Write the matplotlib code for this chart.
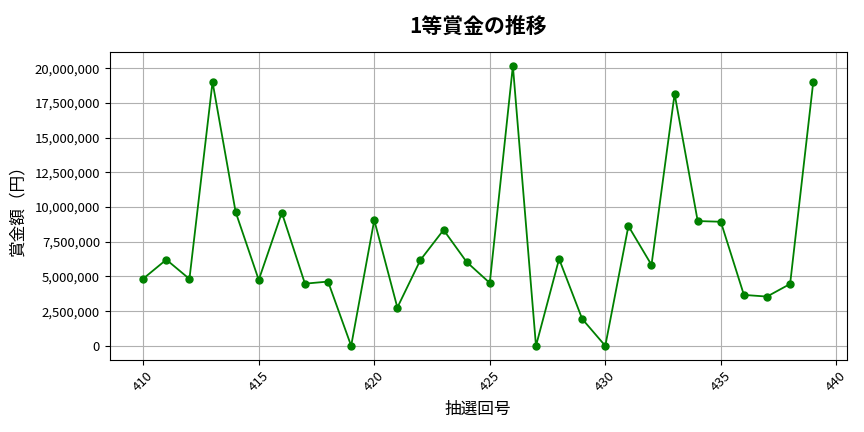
import matplotlib
matplotlib.use("Agg")
import matplotlib.pyplot as plt
from matplotlib.ticker import FuncFormatter

plt.rcParams['font.family'] = ['Noto Sans CJK JP', 'DejaVu Sans']

# 抽選回号と1等賞金
draws = [410, 411, 412, 413, 414, 415, 416, 417, 418, 419,
         420, 421, 422, 423, 424, 425, 426, 427, 428, 429,
         430, 431, 432, 433, 434, 435, 436, 437, 438, 439]
prize = [4840000, 6210000, 4820000, 19010000, 9640000, 4750000, 9590000, 4480000, 4630000, 0,
         9060000, 2760000, 6190000, 8350000, 6040000, 4530000, 20170000, 0, 6260000, 1940000,
         0, 8630000, 5830000, 18150000, 8990000, 8940000, 3670000, 3550000, 4460000, 18990000]

fig, ax = plt.subplots(figsize=(8.64, 4.32), dpi=100)
ax.plot(draws, prize, color="green", marker="o", markersize=5, linewidth=1.3)

ax.set_title("1等賞金の推移", fontsize=15, fontweight="bold", pad=14)
ax.set_xlabel("抽選回号", fontsize=12, labelpad=5)
ax.set_ylabel("賞金額（円）", fontsize=12, labelpad=6)
ax.yaxis.set_major_formatter(FuncFormatter(lambda v, p: f"{int(v):,}"))
ax.tick_params(axis="both", labelsize=9.5)
ax.tick_params(axis="x", rotation=45)
ax.grid(True, color="#b0b0b0", linewidth=0.8)

fig.subplots_adjust(left=0.127, right=0.98, top=0.88, bottom=0.167)
fig.savefig("out.png", dpi=100)
